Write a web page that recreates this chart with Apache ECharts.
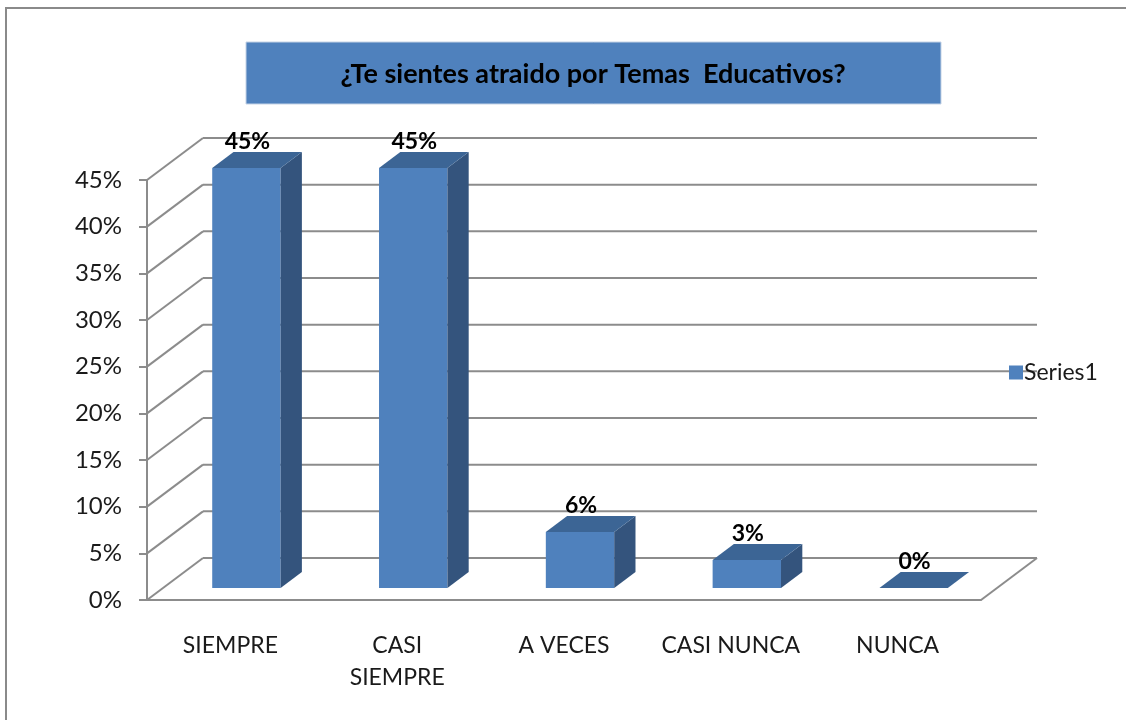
<!DOCTYPE html>
<html>
<head>
<meta charset="utf-8">
<script src="https://cdn.jsdelivr.net/npm/echarts@6/dist/echarts.min.js"></script>
<style>
  html, body { margin: 0; padding: 0; background: #fff; }
  #chart { width: 1126px; height: 720px; }
</style>
</head>
<body>
<div id="chart"></div>
<script>
// datos del gráfico
const categories = ['SIEMPRE', 'CASI\nSIEMPRE', 'A VECES', 'CASI NUNCA', 'NUNCA'];
const values = [45, 45, 6, 3, 0];
const yTicks = [0, 5, 10, 15, 20, 25, 30, 35, 40, 45];
const seriesName = 'Series1';
const titleText = '¿Te sientes atraido por Temas  Educativos?';

// profundidad de la perspectiva 3D
const DX = 56, DY = -42;
const BAR_D0 = 0.286, BAR_D1 = 0.38;
const lineColor = '#8c8c8c';
const font = 'Lato';

// paredes: líneas diagonales y líneas de fondo
function renderWall(params, api) {
  const cs = params.coordSys;
  const v = api.value(0);
  const y = api.coord([0, v])[1];
  const children = [
    { type: 'line', shape: { x1: cs.x, y1: y, x2: cs.x + DX, y2: y + DY },
      style: { stroke: lineColor, lineWidth: 2 } },
    { type: 'line', shape: { x1: cs.x + DX, y1: y + DY, x2: cs.x + cs.width + DX, y2: y + DY },
      style: { stroke: lineColor, lineWidth: 2 } }
  ];
  if (v === 0) {
    children.push({ type: 'line',
      shape: { x1: cs.x + cs.width, y1: y, x2: cs.x + cs.width + DX, y2: y + DY },
      style: { stroke: lineColor, lineWidth: 2 } });
  }
  return { type: 'group', children: children };
}

// barra 3D: frente, tapa y lado
function renderBar(params, api) {
  const idx = api.value(0);
  const top = api.coord([idx, api.value(1)]);
  const base = api.coord([idx, 0]);
  const w = api.size([1, 0])[0] * 0.41;
  const ox = BAR_D0 * DX, oy = BAR_D0 * DY;
  const bx = BAR_D1 * DX, by = BAR_D1 * DY;
  const x0 = top[0] - w / 2 + ox, x1 = top[0] + w / 2 + ox;
  const yt = top[1] + oy, yb = base[1] + oy;
  const children = [];
  if (yb - yt > 0.5) {
    children.push({ type: 'rect', shape: { x: x0, y: yt, width: w, height: yb - yt },
      style: { fill: '#4f81bd' } });
    children.push({ type: 'polygon',
      shape: { points: [[x1, yt], [x1 + bx, yt + by], [x1 + bx, yb + by], [x1, yb]] },
      style: { fill: '#34547d' } });
  }
  children.push({ type: 'polygon',
    shape: { points: [[x0, yt], [x1, yt], [x1 + bx, yt + by], [x0 + bx, yt + by]] },
    style: { fill: '#3c6595' } });
  children.push({ type: 'text',
    style: { text: api.value(1) + '%', x: (x0 + x1) / 2 + 1, y: yt + by + 1,
      align: 'center', verticalAlign: 'bottom',
      font: 'bold 23px ' + font, fill: '#000' } });
  return { type: 'group', children: children };
}

const chart = echarts.init(document.getElementById('chart'));
chart.setOption({
  animation: false,
  graphic: [
    { type: 'rect', shape: { x: 6, y: 8, width: 1130, height: 730 },
      style: { fill: 'none', stroke: '#8a8a8a', lineWidth: 2 } },
    { type: 'rect', shape: { x: 246, y: 42, width: 695, height: 62 },
      style: { fill: '#4f81bd', stroke: '#c5d3e6', lineWidth: 1 } },
    { type: 'text', style: { text: titleText, x: 593, y: 74, align: 'center', verticalAlign: 'middle',
      font: 'bold 27px ' + font, fill: '#000' } }
  ],
  legend: {
    data: [{ name: seriesName, icon: 'rect', itemStyle: { color: '#4f81bd' } }],
    left: 1004, top: 356, itemWidth: 14, itemHeight: 14, itemGap: 4,
    textStyle: { fontFamily: font, fontSize: 23, color: '#1a1a1a', padding: [0, 0, 0, -4] }
  },
  grid: { left: 147, right: 145, top: 180, bottom: 120 },
  xAxis: {
    type: 'category',
    data: categories,
    axisLine: { lineStyle: { color: lineColor, width: 2 } },
    axisTick: { length: 8, lineStyle: { color: lineColor, width: 2 } },
    axisLabel: { interval: 0, margin: 30, fontFamily: font, fontSize: 23, lineHeight: 32,
      color: '#1a1a1a', verticalAlign: 'top' }
  },
  yAxis: {
    type: 'value',
    min: 0, max: 45, interval: 5,
    axisLine: { show: true, lineStyle: { color: lineColor, width: 2 } },
    axisTick: { show: true, length: 8, lineStyle: { color: lineColor, width: 2 } },
    splitLine: { show: false },
    axisLabel: { margin: 25, fontFamily: font, fontSize: 24, color: '#1a1a1a', formatter: '{value}%' }
  },
  series: [
    {
      name: 'wall', type: 'custom', renderItem: renderWall, silent: true, z: 1,
      data: yTicks.map(v => [v]), encode: { y: 0 }
    },
    {
      name: seriesName, type: 'custom', renderItem: renderBar, z: 3,
      itemStyle: { color: '#4f81bd' },
      data: values.map((v, i) => [i, v]), encode: { x: 0, y: 1 }
    }
  ]
});
</script>
</body>
</html>
